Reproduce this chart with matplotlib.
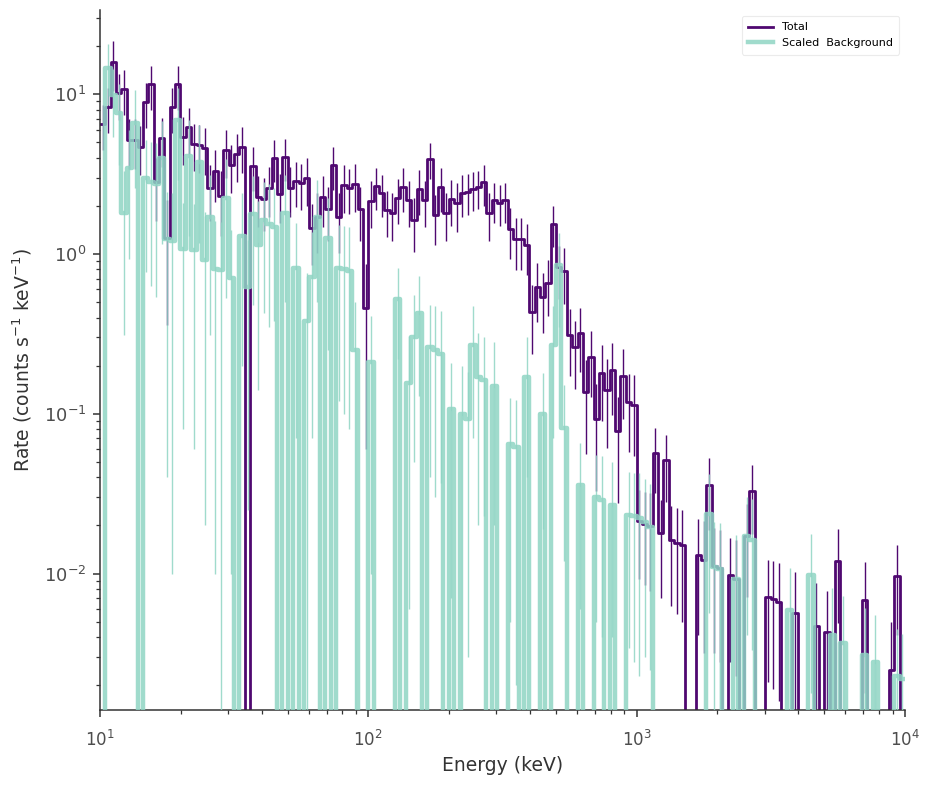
import numpy as np
import matplotlib
matplotlib.use("Agg")
import matplotlib.pyplot as plt

# 150 log-spaced energy bins, 50 per decade, 10 keV - 10 MeV
edges = np.logspace(1, 4, 151)

total = [6.5, 8.3, 15.9, 10.1, 10.8, 5.2, 5.2, 4.7, 8.9, 11.5,
         2.8, 5.3, 1.26, 8.3, 11.5, 5.4, 6.2, 4.9, 4.8, 4.6,
         2.6, 3.3, 2.3, 4.5, 3.6, 4.2, 4.7, 0, 3.56, 2.28,
         2.2, 2.6, 4.0, 2.37, 4.06, 2.6, 2.87, 2.78, 3.0, 1.45,
         1.71, 2.28, 1.91, 3.6, 1.71, 2.7, 2.58, 2.74, 1.91, 0.46,
         2.15, 2.67, 2.4, 1.88, 1.81, 2.24, 2.63, 2.17, 1.63, 2.55,
         2.17, 3.93, 1.74, 2.63, 1.81, 2.2, 2.08, 2.4, 2.45, 2.55,
         2.62, 2.8, 1.81, 2.17, 2.09, 2.17, 1.43, 1.24, 1.24, 1.14,
         0.436, 0.625, 0.54, 0.66, 1.55, 0.826, 0.787, 0.312, 0.263, 0.322,
         0.136, 0.228, 0.093, 0.18, 0.141, 0.188, 0.0775, 0.173, 0.118, 0.114,
         0.0212, 0.0205, 0.0198, 0.0567, 0.018, 0.0511, 0.0163, 0.0156, 0.015, 0,
         0, 0.0131, 0.0122, 0.0356, 0.0112, 0.0108, 0, 0.0098, 0.0093, 0,
         0.0171, 0.0327, 0, 0, 0.0071, 0.0069, 0.0066, 0, 0, 0.0057,
         0, 0, 0, 0.0047, 0, 0.0043, 0, 0.0119, 0, 0,
         0, 0, 0.0068, 0, 0, 0, 0, 0.0025, 0.0096, 0]

total_err = [2.0, 2.6, 5.5, 3.2, 3.4, 1.8, 1.8, 1.6, 2.8, 3.5,
             1.2, 1.8, 0.9, 2.6, 3.5, 1.8, 2.0, 1.6, 1.6, 1.5,
             1.0, 1.2, 1.0, 1.5, 1.2, 1.4, 1.5, 0, 1.1, 0.8,
             0.8, 0.9, 1.2, 0.8, 1.2, 0.9, 0.9, 0.9, 1.0, 0.6,
             0.7, 0.8, 0.7, 1.1, 0.7, 0.9, 0.8, 0.9, 0.7, 0.4,
             0.7, 0.8, 0.7, 0.6, 0.6, 0.7, 0.8, 0.7, 0.6, 0.8,
             0.7, 1.0, 0.6, 0.8, 0.6, 0.7, 0.7, 0.7, 0.7, 0.7,
             0.7, 0.8, 0.6, 0.6, 0.6, 0.6, 0.5, 0.45, 0.45, 0.4,
             0.2, 0.25, 0.22, 0.25, 0.45, 0.3, 0.3, 0.14, 0.12, 0.14,
             0.08, 0.1, 0.06, 0.09, 0.08, 0.09, 0.05, 0.08, 0.06, 0.06,
             0.012, 0.012, 0.012, 0.025, 0.011, 0.023, 0.01, 0.01, 0.01, 0,
             0, 0.009, 0.009, 0.017, 0.008, 0.008, 0, 0.007, 0.007, 0,
             0.01, 0.015, 0, 0, 0.005, 0.005, 0.005, 0, 0, 0.0045,
             0, 0, 0, 0.004, 0, 0.0035, 0, 0.007, 0, 0,
             0, 0, 0.005, 0, 0, 0, 0, 0.0025, 0.0055, 0]

background = [0, 14.6, 9.86, 7.6, 1.81, 3.43, 6.6, 0, 2.97, 2.83,
              2.74, 3.96, 1.24, 1.21, 6.9, 1.08, 4.1, 1.06, 3.77, 0.92,
              1.71, 0.81, 0.79, 2.23, 0.71, 0, 1.3, 0.625, 1.78, 1.14,
              1.63, 1.55, 1.48, 0, 1.8, 0, 0.82, 0, 0.38, 0.72,
              1.7, 0, 1.25, 0, 0.82, 0.8, 0.78, 0.25, 0, 0,
              0.21, 0, 0, 0, 0, 0.52, 0, 0.156, 0.30, 0.43,
              0, 0.26, 0.25, 0.237, 0, 0.107, 0, 0.099, 0.093, 0.27,
              0.17, 0.163, 0, 0.15, 0, 0, 0.065, 0.062, 0, 0.17,
              0, 0, 0.099, 0, 0.27, 0.85, 0.082, 0, 0, 0.036,
              0, 0, 0.03, 0.029, 0, 0.027, 0, 0, 0.0234, 0.0228,
              0.0223, 0.021, 0.0195, 0, 0, 0, 0, 0, 0, 0,
              0, 0, 0, 0.0237, 0.011, 0.0107, 0, 0, 0.0093, 0,
              0.0171, 0.0163, 0, 0, 0, 0, 0, 0, 0.0059, 0,
              0, 0, 0.0098, 0, 0, 0, 0.0041, 0, 0.0037, 0,
              0, 0, 0.0031, 0, 0.0028, 0, 0, 0, 0.0023, 0.0022]

background_err = [0, 6, 4.5, 4, 1.5, 2.5, 4, 0, 2.2, 2.2,
                  2.2, 2.8, 1.2, 1.2, 4, 1.0, 2.8, 1.0, 2.6, 0.9,
                  1.4, 0.8, 0.8, 1.7, 0.7, 0, 1.1, 0.6, 1.3, 1.0,
                  1.2, 1.2, 1.1, 0, 1.3, 0, 0.75, 0, 0.38, 0.65,
                  1.2, 0, 1.0, 0, 0.7, 0.7, 0.7, 0.25, 0, 0,
                  0.2, 0, 0, 0, 0, 0.3, 0, 0.15, 0.25, 0.3,
                  0, 0.22, 0.22, 0.2, 0, 0.1, 0, 0.1, 0.09, 0.2,
                  0.15, 0.14, 0, 0.13, 0, 0, 0.06, 0.06, 0, 0.13,
                  0, 0, 0.08, 0, 0.2, 0.5, 0.07, 0, 0, 0.03,
                  0, 0, 0.025, 0.025, 0, 0.023, 0, 0, 0.02, 0.02,
                  0.02, 0.018, 0.017, 0, 0, 0, 0, 0, 0, 0,
                  0, 0, 0, 0.018, 0.01, 0.01, 0, 0, 0.008, 0,
                  0.013, 0.013, 0, 0, 0, 0, 0, 0, 0.005, 0,
                  0, 0, 0.008, 0, 0, 0, 0.004, 0, 0.0035, 0,
                  0, 0, 0.003, 0, 0.0027, 0, 0, 0, 0.0022, 0.002]

purple = "#4f0870"
teal = "#8fd5c4"

fig = plt.figure(figsize=(9.3, 7.86), dpi=100)
ax = fig.add_axes([0.1075, 0.0967, 0.8655, 0.8903])
ax.set_xscale("log")
ax.set_yscale("log", nonpositive="clip")

centers = np.sqrt(edges[:-1] * edges[1:])


def draw(vals, errs, color, lw, alpha, label, z):
    vals = np.asarray(vals, float)
    errs = np.asarray(errs, float)
    ax.step(edges, np.append(vals, vals[-1]), where="post", color=color,
            lw=lw, alpha=alpha, label=label, zorder=z)
    m = vals > 0
    ax.errorbar(centers[m], vals[m], yerr=errs[m], fmt="none", ecolor=color,
                elinewidth=1, alpha=alpha, capsize=0, zorder=z)


draw(total, total_err, purple, 2.0, 1.0, "Total", 2)
draw(background, background_err, teal, 3.2, 0.85, "Scaled  Background", 3)

ax.set_xlim(10, 1e4)
ax.set_ylim(1.4e-3, 33.5)

for s in ["top", "right"]:
    ax.spines[s].set_visible(False)
for s in ["left", "bottom"]:
    ax.spines[s].set_color("#333333")
    ax.spines[s].set_linewidth(1.1)

ax.tick_params(which="major", direction="out", length=5, width=1.1,
               colors="#333333", labelsize=12, labelcolor="#4d4d4d")
ax.tick_params(which="minor", direction="out", length=3, width=0.9,
               colors="#333333")
ax.tick_params(axis="x", which="major", pad=9)
ax.tick_params(axis="y", which="major", labelsize=13, pad=5)

ax.set_xlabel("Energy (keV)", fontsize=13.5, color="#333333", labelpad=5)
ax.set_ylabel("Rate (counts s$^{-1}$ keV$^{-1}$)", fontsize=13.5,
              color="#333333", labelpad=7)

leg = ax.legend(loc="upper right", fontsize=8, frameon=True, fancybox=True,
                borderpad=0.6, handlelength=2.2)
leg.get_frame().set_edgecolor("#e6e6e6")
leg.get_frame().set_linewidth(0.8)

fig.savefig("out.png", dpi=100)
